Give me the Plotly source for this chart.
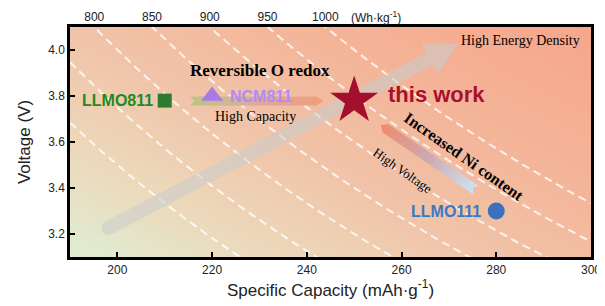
import numpy as np
import plotly.graph_objects as go

# ---------------- data ----------------
names = ["LLMO811", "NCM811", "this work", "LLMO111"]
capacity = [210, 220, 250, 280]          # mAh g-1
voltage = [3.78, 3.80, 3.78, 3.30]       # V
energy_levels = [700, 750, 800, 850, 900, 950, 1000]   # iso-energy lines (Wh kg-1)
top_tick_energies = [800, 850, 900, 950, 1000]
x_ticks = [200, 220, 240, 260, 280, 300]
y_ticks = [3.2, 3.4, 3.6, 3.8, 4.0]

# ---------------- layout constants ----------------
# page body has an 8px margin, so the figure is drawn 8px lower/right
W, H = 597, 298
ML, MR, MT, MB = 62, 14, 19, 49
X_RANGE = [190, 300]
Y_RANGE = [3.1, 4.1]
V_TOP = Y_RANGE[1]
KX = (W - ML - MR) / (X_RANGE[1] - X_RANGE[0])   # px per unit
KY = (H - MT - MB) / (Y_RANGE[1] - Y_RANGE[0])

SANS = "Liberation Sans, Arial, sans-serif"
SERIF = "Liberation Serif, Times New Roman, serif"

fig = go.Figure()

# ---------------- gradient background ----------------
gx = np.linspace(X_RANGE[0], X_RANGE[1], 60)
gy = np.linspace(Y_RANGE[0], Y_RANGE[1], 40)
GX, GY = np.meshgrid(gx, gy)
gz = 0.55 * (GX - X_RANGE[0]) / (X_RANGE[1] - X_RANGE[0]) + 0.45 * (GY - Y_RANGE[0]) / (Y_RANGE[1] - Y_RANGE[0])
fig.add_trace(go.Heatmap(
    x=gx, y=gy, z=gz, zmin=0, zmax=1, zsmooth="best", showscale=False, hoverinfo="skip",
    colorscale=[[0, "rgb(222,238,212)"], [0.2, "rgb(236,218,188)"], [0.45, "rgb(241,195,168)"],
                [0.7, "rgb(244,180,152)"], [1, "rgb(246,166,139)"]],
))

# ---------------- iso-energy dashed curves ----------------
cc = np.linspace(X_RANGE[0], X_RANGE[1], 300)
for e in energy_levels:
    fig.add_trace(go.Scatter(
        x=cc, y=e / cc, mode="lines", hoverinfo="skip",
        line=dict(color="rgba(255,255,255,0.8)", width=2, dash="8px,5px"),
    ))


# ---------------- arrow helpers (geometry in pixel space) ----------------
def _px(c, v):
    return np.array([c * KX, v * KY])


def _dt(p):
    return p[0] / KX, p[1] / KY


def _frame(start, end):
    s, e = _px(*start), _px(*end)
    L = np.linalg.norm(e - s)
    d = (e - s) / L
    n = np.array([-d[1], d[0]])
    return s, d, n, L


def gray_arrow(start, end, width, head_len, head_w, color):
    s, d, n, L = _frame(start, end)
    pts = []
    for a in np.linspace(np.pi / 2, 3 * np.pi / 2, 16):
        pts.append(s + (np.cos(a) * d + np.sin(a) * n) * width / 2)
    pts.append(s + d * (L - head_len) - n * width / 2)
    pts.append(s + d * (L - head_len) - n * head_w / 2)
    pts.append(s + d * L)
    pts.append(s + d * (L - head_len) + n * head_w / 2)
    pts.append(s + d * (L - head_len) + n * width / 2)
    xs, ys = zip(*[_dt(p) for p in pts])
    fig.add_trace(go.Scatter(x=list(xs) + [xs[0]], y=list(ys) + [ys[0]], mode="lines",
                             fill="toself", fillcolor=color, line=dict(width=0),
                             hoverinfo="skip"))


def _mix(c1, c2, t):
    return tuple(int(round(a + (b - a) * t)) for a, b in zip(c1, c2))


def grad_color(stops, t):
    for i in range(len(stops) - 1):
        t0, c0 = stops[i]
        t1, c1 = stops[i + 1]
        if t <= t1:
            return _mix(c0, c1, (t - t0) / (t1 - t0) if t1 > t0 else 0)
    return stops[-1][1]


def ribbon_arrow(start, end, width, head_len, notch, stops, k=30):
    s, d, n, L = _frame(start, end)
    body = L - head_len
    edges = np.linspace(0, body, k + 1)
    hw = width / 2
    for i in range(k):
        a, b = edges[i], edges[i + 1] + 0.6
        if i == 0:
            loc = [(a, hw), (b, hw), (b, -hw), (a, -hw), (a + notch, 0)]
        else:
            loc = [(a, hw), (b, hw), (b, -hw), (a, -hw)]
        pts = [s + d * u + n * o for u, o in loc]
        xs, ys = zip(*[_dt(p) for p in pts])
        col = "rgb(%d,%d,%d)" % grad_color(stops, (i + 0.5) / (k + 1))
        fig.add_trace(go.Scatter(x=list(xs) + [xs[0]], y=list(ys) + [ys[0]], mode="lines",
                                 fill="toself", fillcolor=col, line=dict(width=0), hoverinfo="skip"))
    loc = [(body, hw), (L, 0), (body, -hw)]
    pts = [s + d * u + n * o for u, o in loc]
    xs, ys = zip(*[_dt(p) for p in pts])
    col = "rgb(%d,%d,%d)" % grad_color(stops, 1.0)
    fig.add_trace(go.Scatter(x=list(xs) + [xs[0]], y=list(ys) + [ys[0]], mode="lines",
                             fill="toself", fillcolor=col, line=dict(width=0), hoverinfo="skip"))


# High energy density (gray) arrow
gray_arrow((198.1, 3.226), (271.9, 4.026), 14, 32, 36, "rgba(200,204,204,0.55)")
# High capacity arrow (green -> orange)
ribbon_arrow((215.4, 3.778), (243.5, 3.778), 9, 7, 4,
             [(0, (186, 198, 132)), (0.5, (222, 170, 158)), (1, (240, 158, 128))])
# High voltage arrow (light blue -> orange), pointing up-left
ribbon_arrow((275.7, 3.391), (255.6, 3.674), 10, 6, 4,
             [(0, (205, 228, 245)), (0.5, (205, 170, 178)), (1, (238, 140, 108))])

# ---------------- markers ----------------
styles = [
    dict(symbol="square", size=14, color="#2f7a30"),
    dict(symbol="triangle-up", size=19, color="#a87ae6"),
    dict(symbol="star", size=36, color="#a30f2d"),
    dict(symbol="circle", size=17, color="#3a70bd"),
]
for c, v, st in zip(capacity, voltage, styles):
    fig.add_trace(go.Scatter(x=[c], y=[v], mode="markers", hoverinfo="skip",
                             marker=dict(symbol=st["symbol"], size=st["size"], color=st["color"],
                                         line=dict(width=0))))

# dummy trace for top axis
fig.add_trace(go.Scatter(x=[X_RANGE[0]], y=[Y_RANGE[0]], xaxis="x2", mode="markers",
                         marker=dict(opacity=0), hoverinfo="skip"))

# ---------------- annotations ----------------
ann = []
label_cfg = [
    dict(xanchor="right", xshift=-10, yshift=0, color="#1f8a22", size=16),
    dict(xanchor="left", xshift=16, yshift=0, color="#b08cf2", size=16),
    dict(xanchor="left", xshift=32, yshift=6, color="#a8102e", size=22),
    dict(xanchor="right", xshift=-13, yshift=0, color="#3a78c8", size=16),
]
for nm, c, v, cfg in zip(names, capacity, voltage, label_cfg):
    ann.append(dict(x=c, y=v, text="<b>%s</b>" % nm, showarrow=False, xanchor=cfg["xanchor"],
                    yanchor="middle", xshift=cfg["xshift"], yshift=cfg["yshift"],
                    font=dict(family=SANS, size=cfg["size"], color=cfg["color"])))

ann += [
    dict(x=230.2, y=3.913, text="<b>Reversible O redox</b>", showarrow=False,
         font=dict(family=SERIF, size=17, color="black")),
    dict(x=229.1, y=3.709, text="High Capacity", showarrow=False,
         font=dict(family=SERIF, size=14, color="black")),
    dict(x=285.2, y=4.043, text="High Energy Density", showarrow=False,
         font=dict(family=SERIF, size=14, color="black")),
    dict(x=273.1, y=3.535, text="<b>Increased Ni content</b>", showarrow=False, textangle=35,
         font=dict(family=SERIF, size=16, color="black")),
    dict(x=260.2, y=3.474, text="High Voltage", showarrow=False, textangle=35,
         font=dict(family=SERIF, size=13, color="black")),
    dict(x=254.7, xref="x", y=1.045, yref="paper", text="(Wh·kg<sup>-1</sup>)", showarrow=False,
         yanchor="middle", font=dict(family=SANS, size=12, color="#222")),
]

axis_common = dict(showgrid=False, zeroline=False, showline=True, linecolor="black",
                   linewidth=2.5, mirror=True, ticks="inside", ticklen=5, tickwidth=2,
                   tickcolor="black", tickfont=dict(family=SANS, size=12, color="#222"))

fig.update_layout(
    width=W, height=H,
    margin=dict(l=ML, r=MR, t=MT, b=MB),
    paper_bgcolor="white", plot_bgcolor="white",
    showlegend=False,
    xaxis=dict(range=X_RANGE, tickvals=x_ticks, automargin=False,
               title=dict(text="Specific Capacity (mAh·g<sup>-1</sup>)", standoff=8,
                          font=dict(family=SANS, size=17, color="#222")),
               **axis_common),
    yaxis=dict(range=Y_RANGE, tickvals=y_ticks, tickformat=".1f", automargin=False,
               title=dict(text="Voltage (V)", standoff=14,
                          font=dict(family=SANS, size=17, color="#222")),
               **axis_common),
    xaxis2=dict(overlaying="x", side="top", range=X_RANGE, showgrid=False, zeroline=False,
                showline=False, ticks="", automargin=False, ticklabelstandoff=3,
                tickvals=[e / V_TOP for e in top_tick_energies],
                ticktext=[str(e) for e in top_tick_energies],
                tickfont=dict(family=SANS, size=12, color="#222")),
    annotations=ann,
)

fig.write_html("out.html")
